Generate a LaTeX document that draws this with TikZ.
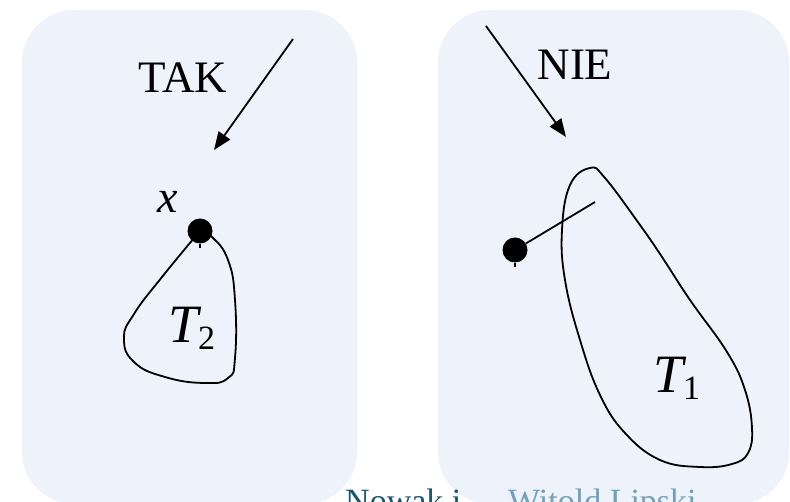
\documentclass[tikz,border=0pt]{standalone}
\usepackage{fontspec}
\setmainfont{Liberation Serif}
\usetikzlibrary{arrows.meta}
\definecolor{panelbg}{RGB}{238,242,251}
\definecolor{foot1}{RGB}{24,84,112}
\definecolor{foot2}{RGB}{112,160,186}

\begin{document}
\begin{tikzpicture}[x=1pt,y=-1pt,
  panel/.style={fill=panelbg,rounded corners=52pt},
  curve/.style={line width=1.8pt},
  ptr/.style={-{Triangle[length=18pt,width=14pt]},line width=1.8pt},
  vertex/.style={circle,fill=black,inner sep=0pt,minimum size=25pt},
  word/.style={font=\fontsize{45}{45}\selectfont,inner sep=0pt},
  setlabel/.style={anchor=base west,inner sep=0pt},
  footer/.style={anchor=base west,inner sep=0pt,font=\fontsize{34}{34}\selectfont}
]
\useasboundingbox (0,0) rectangle (790,502);
\fill[panel] (22,10) rectangle (357,504);
\fill[panel] (438,10) rectangle (789,504);
% left panel: TAK
\node[word] (tak) at (183,78) {TAK};
\coordinate (takfrom) at (293,39);
\coordinate (takto) at (214,150);
\draw[ptr] (takfrom) -- (takto);
\draw[curve] plot[smooth,tension=0.8] coordinates {(200,231) (162,277) (134,314)
  (124,338) (134,362) (165,377) (205,383) (228,378) (235,358) (235,300) (228,260)
  (212,237) (200,231)};
\node[vertex] (x) at (200,231) {};
\draw[curve] (x.south) -- ++(0,4);
\node[setlabel] (xlab) at (157,213) {\fontsize{46}{46}\selectfont\itshape x};
\node[setlabel] (t2) at (168,343)
  {{\fontsize{54}{54}\selectfont\itshape T}{\fontsize{34}{34}\selectfont\raisebox{-7pt}{2}}};
% right panel: NIE
\node[word] (nie) at (575,65) {NIE};
\coordinate (niefrom) at (486,26);
\coordinate (nieto) at (566,137);
\draw[ptr] (niefrom) -- (nieto);
\draw[curve] plot[smooth cycle,tension=0.7] coordinates {(590,168) (570,185) (562,230)
  (565,280) (580,340) (600,395) (625,433) (660,460) (700,467) (732,464) (748,453)
  (752,428) (745,390) (727,352) (690,300) (662,257) (640,225) (605,178)};
\node[vertex] (y) at (515,250) {};
\coordinate (inside) at (595,202);
\draw[curve] (y) -- (inside);
\draw[curve] (y.south) -- ++(0,4);
\node[setlabel] (t1) at (653,393)
  {{\fontsize{54}{54}\selectfont\itshape T}{\fontsize{34}{34}\selectfont\raisebox{-7pt}{1}}};
% footer
\node[footer,text=foot1] (auth1) at (345,512) {Nowak i};
\node[footer,text=foot2] (auth2) at (508,512) {Witold Lipski};
\end{tikzpicture}
\end{document}
